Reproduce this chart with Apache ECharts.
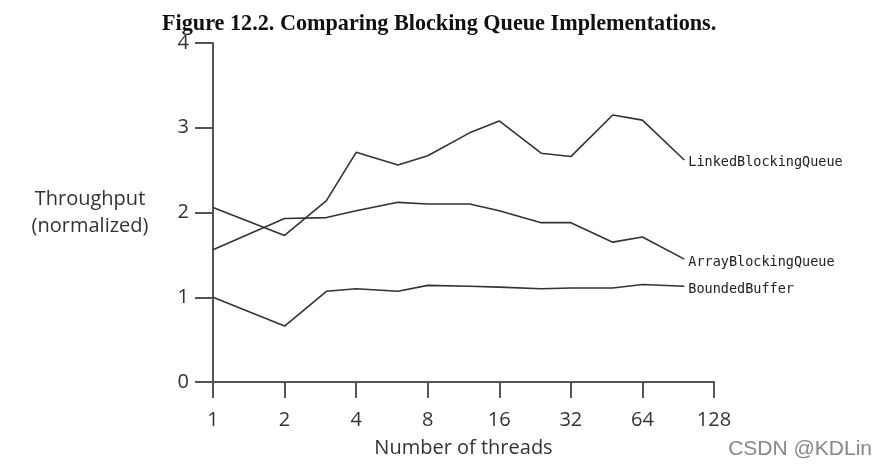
<!DOCTYPE html>
<html>
<head>
<meta charset="utf-8">
<script src="https://cdn.jsdelivr.net/npm/echarts@6/dist/echarts.min.js"></script>
<style>html,body{margin:0;padding:0;background:#fff}#c{width:886px;height:468px}</style>
</head>
<body>
<div id="c"></div>
<script>
const threads = [1, 2, 3, 4, 6, 8, 12, 16, 24, 32, 48, 64, 96];
const linkedBlockingQueue = [2.06, 1.73, 2.14, 2.71, 2.56, 2.67, 2.94, 3.08, 2.70, 2.66, 3.15, 3.09, 2.62];
const arrayBlockingQueue  = [1.56, 1.93, 1.94, 2.02, 2.12, 2.10, 2.10, 2.02, 1.88, 1.88, 1.65, 1.71, 1.45];
const boundedBuffer       = [1.00, 0.66, 1.07, 1.10, 1.07, 1.14, 1.13, 1.12, 1.10, 1.11, 1.11, 1.15, 1.13];
const seriesNames = ['LinkedBlockingQueue', 'ArrayBlockingQueue', 'BoundedBuffer'];
const titleText = 'Figure 12.2. Comparing Blocking Queue Implementations.';
const xName = 'Number of threads';
const yName = 'Throughput\n(normalized)';

const chart = echarts.init(document.getElementById('c'), null, {renderer: 'canvas'});
const sansFont = 'Open Sans';
const mk = (name, vals) => ({
  name: name,
  type: 'line',
  data: threads.map((t, i) => [t, vals[i]]),
  symbol: 'none',
  lineStyle: {color: '#333', width: 1.6},
  itemStyle: {color: '#333'},
  endLabel: {
    show: true,
    formatter: name,
    fontFamily: 'DejaVu Sans Mono',
    fontSize: 13.5,
    color: '#222',
    distance: 4,
    offset: [0, 3]
  },
  animation: false
});
chart.setOption({
  backgroundColor: '#fff',
  animation: false,
  title: {
    text: titleText,
    left: 157,
    top: 8,
    textStyle: {fontFamily: 'Liberation Serif', fontWeight: 'bold', fontSize: 22.2, color: '#111'}
  },
  grid: {left: 213, right: 172, top: 43, bottom: 86},
  xAxis: {
    type: 'log',
    logBase: 2,
    min: 1,
    max: 128,
    interval: 1,
    name: xName,
    nameLocation: 'middle',
    nameGap: 56,
    nameTextStyle: {fontFamily: sansFont, fontSize: 20, color: '#333'},
    axisLine: {lineStyle: {color: '#555', width: 2}},
    axisTick: {show: true, length: 16, lineStyle: {color: '#555', width: 2}},
    axisLabel: {fontFamily: sansFont, fontSize: 20, color: '#333', margin: 28},
    splitLine: {show: false}
  },
  yAxis: {
    type: 'value',
    min: 0,
    max: 4,
    interval: 1,
    name: yName,
    nameLocation: 'middle',
    nameRotate: 0,
    nameGap: 123,
    nameTextStyle: {fontFamily: sansFont, fontSize: 20, color: '#333', align: 'center', lineHeight: 27},
    axisLine: {show: true, lineStyle: {color: '#555', width: 2}},
    axisTick: {show: true, length: 18, lineStyle: {color: '#555', width: 2}},
    axisLabel: {fontFamily: sansFont, fontSize: 20, color: '#333', margin: 24},
    splitLine: {show: false}
  },
  series: [
    mk(seriesNames[0], linkedBlockingQueue),
    mk(seriesNames[1], arrayBlockingQueue),
    mk(seriesNames[2], boundedBuffer)
  ],
  graphic: [{
    type: 'text',
    right: 14,
    bottom: 8,
    style: {text: 'CSDN @KDLin', fontFamily: 'Liberation Sans', fontSize: 21, fill: '#888'}
  }]
});
</script>
</body>
</html>
